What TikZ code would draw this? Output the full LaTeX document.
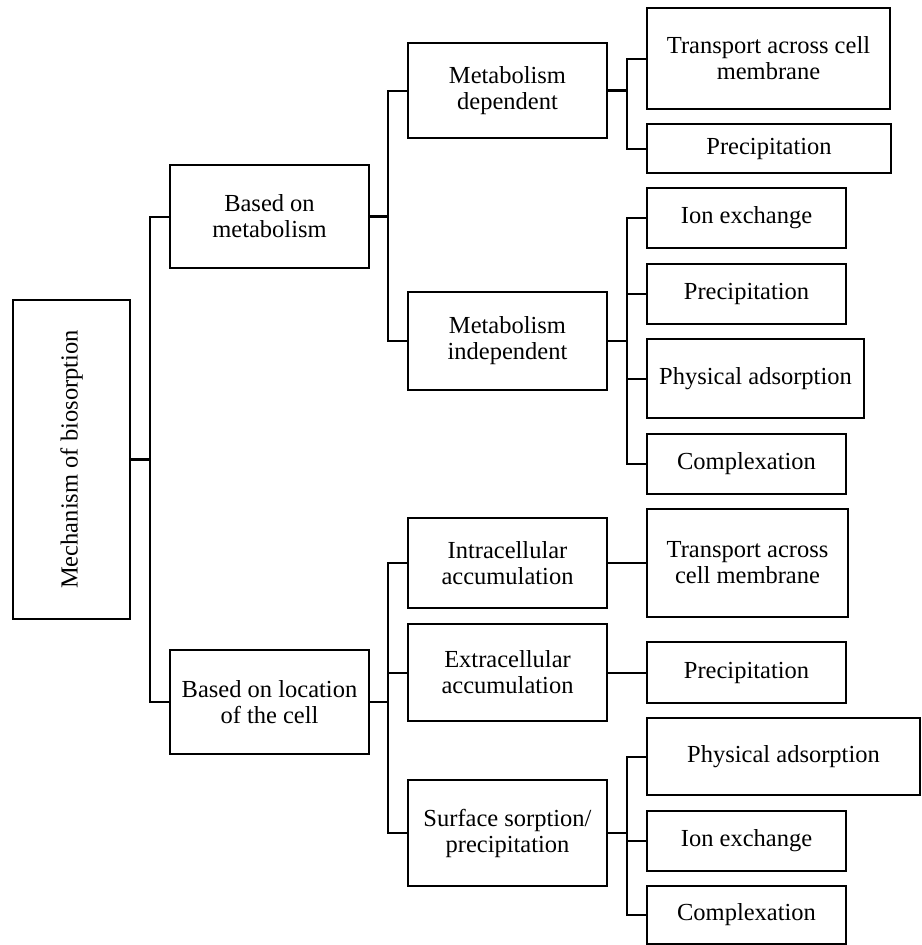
\documentclass[tikz,border=0pt]{standalone}
\usepackage{fontspec}
\setmainfont{Liberation Serif}
\begin{document}
\begin{tikzpicture}[x=1pt,y=-1pt,
  box/.style={draw=black,line width=2.2pt,inner sep=0pt,align=center,
    font=\fontsize{24.5}{26}\selectfont},
  conn/.style={draw=black,line width=2pt},
  stub/.style={draw=black,line width=2.8pt}]
\useasboundingbox (0,0) rectangle (921,945);
\newcommand{\bx}[6]{\node[box,minimum width={#4-#2},minimum height={#5-#3}] (#1) at ({(#2+#4)/2},{(#3+#5)/2}) {#6};}
% level 0
\node[box,minimum width=117,minimum height=319] (root) at (71.5,459.5) {};
\node[font=\fontsize{24.5}{26}\selectfont,rotate=90] (roottext) at (root.center) {Mechanism of biosorption};
% level 1
\bx{bm}{170}{165}{369}{268}{Based on\\metabolism}
\bx{bl}{170}{650}{369}{754}{Based on location\\of the cell}
% level 2
\bx{md}{408}{43}{607}{138}{Metabolism\\dependent}
\bx{mi}{408}{292}{607}{390}{Metabolism\\independent}
\bx{ia}{408}{518}{607}{608}{Intracellular\\accumulation}
\bx{ea}{408}{624}{607}{721}{Extracellular\\accumulation}
\bx{ss}{408}{780}{607}{886}{Surface sorption/\\precipitation}
% level 3
\bx{t1}{647}{8}{890}{109}{Transport across cell\\membrane}
\bx{p1}{647}{124}{891}{173}{Precipitation}
\bx{ie1}{647}{188}{846}{248}{Ion exchange}
\bx{p2}{647}{264}{846}{324}{Precipitation}
\bx{pa1}{647}{339}{864}{418}{Physical adsorption}
\bx{cx1}{647}{434}{846}{494}{Complexation}
\bx{t2}{647}{509}{848}{617}{Transport across\\cell membrane}
\bx{p3}{647}{642}{846}{703}{Precipitation}
\bx{pa2}{647}{718}{920}{795}{Physical adsorption}
\bx{ie2}{647}{811}{846}{871}{Ion exchange}
\bx{cx2}{647}{886}{846}{944}{Complexation}
% junction columns
\coordinate (j0) at (150,0);
\coordinate (j1) at (388,0);
\coordinate (j2) at (627,0);
% connectors
\draw[stub] (root.east) -- (root.east -| j0);
\draw[conn] (root.east -| j0) |- (bm.west);
\draw[conn] (root.east -| j0) |- (bl.west);
\draw[stub] (bm.east) -- (bm.east -| j1);
\draw[conn] (bm.east -| j1) |- (md.west);
\draw[conn] (bm.east -| j1) |- (mi.west);
\draw[stub] (md.east) -- (md.east -| j2);
\draw[conn] (md.east -| j2) |- (t1.west);
\draw[conn] (md.east -| j2) |- (p1.west);
\draw[stub] (mi.east) -- (mi.east -| j2);
\draw[conn] (mi.east -| j2) |- (ie1.west);
\draw[conn] (mi.east -| j2) |- (p2.west);
\draw[conn] (mi.east -| j2) |- (pa1.west);
\draw[conn] (mi.east -| j2) |- (cx1.west);
\draw[stub] (bl.east) -- (bl.east -| j1);
\draw[conn] (bl.east -| j1) |- (ia.west);
\draw[conn] (bl.east -| j1) |- (ea.west);
\draw[conn] (bl.east -| j1) |- (ss.west);
\draw[conn] (ia.east) -- (t2.west);
\draw[conn] (ea.east) -- (p3.west);
\draw[stub] (ss.east) -- (ss.east -| j2);
\draw[conn] (ss.east -| j2) |- (pa2.west);
\draw[conn] (ss.east -| j2) |- (ie2.west);
\draw[conn] (ss.east -| j2) |- (cx2.west);
\end{tikzpicture}
\end{document}
